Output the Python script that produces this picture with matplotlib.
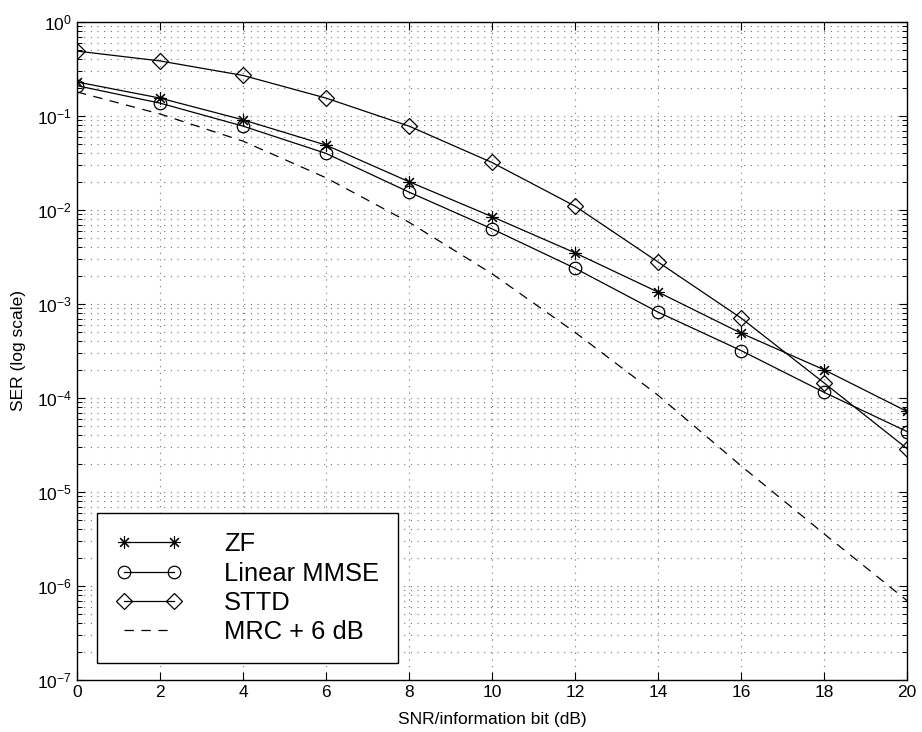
import numpy as np
import matplotlib
matplotlib.use("Agg")
import matplotlib.pyplot as plt

plt.rcParams['font.family'] = ['Liberation Sans', 'DejaVu Sans']

snr = [0, 2, 4, 6, 8, 10, 12, 14, 16, 18, 20]
ser_zf = [0.23, 0.155, 0.091, 0.049, 0.020, 0.0085, 0.0035, 0.00134, 4.9e-4, 2.0e-4, 7.2e-5]
ser_mmse = [0.21, 0.137, 0.078, 0.040, 0.0155, 0.0063, 0.0024, 8.2e-4, 3.2e-4, 1.15e-4, 4.4e-5]
ser_sttd = [0.49, 0.385, 0.27, 0.155, 0.078, 0.032, 0.011, 0.0028, 7.1e-4, 1.45e-4, 2.9e-5]
ser_mrc = [0.18, 0.105, 0.054, 0.022, 0.0074, 0.0021, 5.0e-4, 1.07e-4, 1.9e-5, 3.6e-6, 7.0e-7]

fig = plt.figure(figsize=(9.22, 7.32), dpi=100)
ax = fig.add_axes([0.0835, 0.071, 0.9002, 0.899])

ax.semilogy(snr, ser_zf, 'k-', marker=(8, 2, 0), markersize=9, lw=0.9, mew=0.8, label='ZF')
ax.semilogy(snr, ser_mmse, 'k-', marker='o', markersize=9, lw=0.9, mew=0.9,
            mfc='none', label='Linear MMSE')
ax.semilogy(snr, ser_sttd, 'k-', marker='D', markersize=8, lw=0.9, mew=0.9,
            mfc='none', label='STTD')
ax.semilogy(snr, ser_mrc, 'k', ls=(0, (7.5, 6)), lw=0.9, label='MRC + 6 dB')

ax.set_xlim(0, 20)
ax.set_ylim(1e-7, 1)
ax.set_xticks(range(0, 21, 2))
ax.grid(True, which='major', color='0.45', ls=(0, (1, 5)), lw=0.8)
ax.grid(True, which='minor', axis='y', color='0.45', ls=(0, (1, 5)), lw=0.8)
ax.tick_params(which='both', direction='in', top=True, right=True, labelsize=12.5)
ax.tick_params(which='major', length=6, width=0.8)
ax.tick_params(which='minor', length=3.5, width=0.7)
for s in ax.spines.values():
    s.set_linewidth(1.0)

ax.set_xlabel('SNR/information bit (dB)', fontsize=12.5, labelpad=9)
ax.set_ylabel('SER (log scale)', fontsize=12.5, labelpad=8)

leg = ax.legend(loc='lower left', bbox_to_anchor=(0.024, 0.026), fontsize=18.4,
                numpoints=2, handlelength=2.58, handletextpad=1.64, labelspacing=0.2,
                borderpad=0.75, borderaxespad=0, fancybox=False, framealpha=1,
                edgecolor='k')
leg.get_frame().set_linewidth(1.0)

fig.savefig('out.png', dpi=100)
